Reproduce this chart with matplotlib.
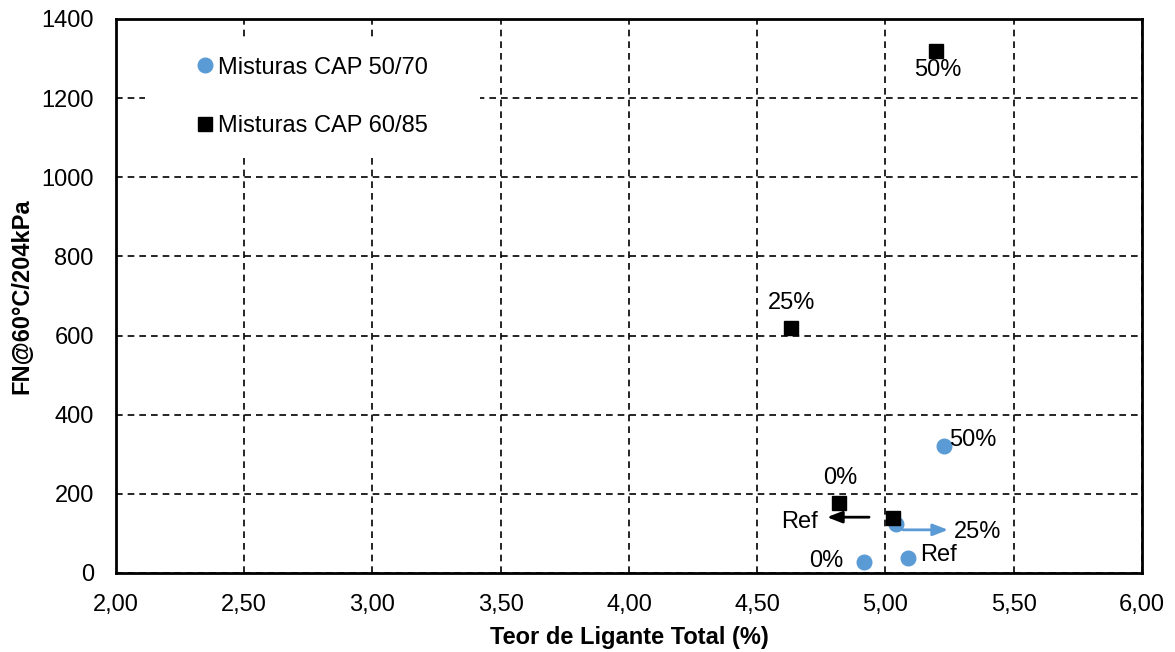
import matplotlib
matplotlib.use("Agg")
import matplotlib.pyplot as plt
from matplotlib.patches import Rectangle
from matplotlib.ticker import FuncFormatter

plt.rcParams['font.family'] = ['Liberation Sans', 'DejaVu Sans']

# Misturas CAP 50/70 (circulos azuis)
cap5070_teor = [4.916, 5.088, 5.041, 5.228]
cap5070_fn = [28, 38, 124, 321]
cap5070_rotulos = ["0%", "Ref", "25%", "50%"]

# Misturas CAP 60/85 (quadrados pretos)
cap6085_teor = [4.819, 5.029, 4.632, 5.197]
cap6085_fn = [177, 139, 618, 1320]
cap6085_rotulos = ["0%", "Ref", "25%", "50%"]

azul = "#5B9BD5"

fig = plt.figure(figsize=(11.75, 6.52), dpi=100)
ax = fig.add_axes([0.0987, 0.1212, 0.8732, 0.8497])

ax.set_axisbelow(True)
ax.grid(True, color="black", linestyle=(0, (4, 3)), linewidth=1.2)

ax.plot(cap5070_teor, cap5070_fn, "o", color=azul, markersize=10.5,
        label="Misturas CAP 50/70", zorder=3)
ax.plot(cap6085_teor, cap6085_fn, "s", color="black", markersize=10.5,
        label="Misturas CAP 60/85", zorder=4)

fs = 17
# rotulos CAP 50/70
offs_5070 = [(-27, 1, "center"), (9, 2, "left"), (59, -6, "center"), (4, 4, "left")]
for x, y, txt, (dx, dy, ha) in zip(cap5070_teor, cap5070_fn, cap5070_rotulos, offs_5070):
    ax.annotate(txt, (x, y), xytext=(dx, dy), textcoords="offset points",
                ha=ha, va="center", fontsize=fs)
# rotulos CAP 60/85
offs_6085 = [(1, 18, "center"), (-67, -3, "center"), (0, 18, "center"), (1, -14, "center")]
for x, y, txt, (dx, dy, ha) in zip(cap6085_teor, cap6085_fn, cap6085_rotulos, offs_6085):
    ax.annotate(txt, (x, y), xytext=(dx, dy), textcoords="offset points",
                ha=ha, va="center", fontsize=fs)

# setas
seta = "-|>,head_length=0.9,head_width=0.35"
ax.annotate("", xy=(4.772, 141), xytext=(4.936, 141),
            arrowprops=dict(arrowstyle=seta, color="black", lw=2,
                            shrinkA=0, shrinkB=0))
ax.annotate("", xy=(5.244, 109), xytext=(5.068, 109),
            arrowprops=dict(arrowstyle=seta, color=azul, lw=2,
                            shrinkA=0, shrinkB=0))

ax.set_xlim(2.0, 6.0)
ax.set_ylim(0, 1400)
ax.set_xticks([2.0 + 0.5 * i for i in range(9)])
ax.set_yticks(range(0, 1401, 200))
ax.xaxis.set_major_formatter(FuncFormatter(lambda v, p: f"{v:.2f}".replace(".", ",")))
ax.tick_params(labelsize=fs, length=0)
ax.tick_params(axis="x", pad=15)
ax.tick_params(axis="y", pad=16)

for s in ax.spines.values():
    s.set_linewidth(2)

ax.set_xlabel("Teor de Ligante Total (%)", fontsize=17, fontweight="bold", labelpad=7)
ax.set_ylabel("FN@60°C/204kPa", fontsize=17, fontweight="bold", labelpad=6)

# fundo branco da legenda
ax.add_patch(Rectangle((0.028, 0.7545), 0.327, 0.213, transform=ax.transAxes,
                       facecolor="white", edgecolor="none", zorder=1.5))
ax.legend(loc="upper left", bbox_to_anchor=(0.072, 0.949), frameon=False,
          fontsize=fs, handlelength=0.5, handletextpad=0.3,
          labelspacing=1.55, borderaxespad=0)

fig.savefig("out.png", dpi=100)
